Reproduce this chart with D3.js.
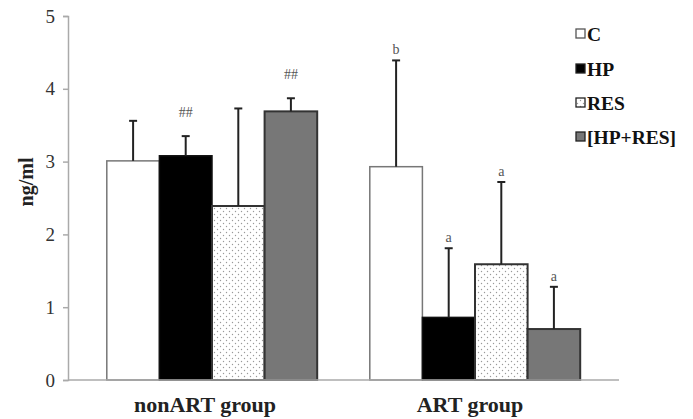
<!DOCTYPE html>
<html><head><meta charset="utf-8">
<script src="https://cdn.jsdelivr.net/npm/d3@7"></script>
<style>body{margin:0;background:#fff}svg{display:block}</style>
</head><body><svg id="c" width="693" height="419"></svg>
<script>
const groups = ["nonART group", "ART group"];
const series = ["C", "HP", "RES", "[HP+RES]"];
const means = {
  "nonART group": [3.01, 3.08, 2.39, 3.69],
  "ART group":    [2.93, 0.86, 1.59, 0.70]
};
const errTops = {
  "nonART group": [3.56, 3.35, 3.73, 3.87],
  "ART group":    [4.39, 1.81, 2.72, 1.28]
};
const marks = {
  "nonART group": ["", "##", "", "##"],
  "ART group":    ["b", "a", "a", "a"]
};
const yTicks = [0, 1, 2, 3, 4, 5];

const svg = d3.select("#c");
const defs = svg.append("defs");
const pat = defs.append("pattern").attr("id","dots").attr("patternUnits","userSpaceOnUse")
  .attr("width",6).attr("height",6);
pat.append("rect").attr("width",6).attr("height",6).attr("fill","#fff");
pat.append("circle").attr("cx",1.5).attr("cy",1.5).attr("r",0.7).attr("fill","#999");
pat.append("circle").attr("cx",4.5).attr("cy",4.5).attr("r",0.7).attr("fill","#999");

const fills = {"C":"#fff","HP":"#000","RES":"url(#dots)","[HP+RES]":"#777"};
const strokes = {"C":"#777","HP":"#111","RES":"#333","[HP+RES]":"#333"};
const sw = {"C":1.5,"HP":1.5,"RES":2,"[HP+RES]":2};

const y = d3.scaleLinear().domain([0,5]).range([380,16]);
const x0 = d3.scaleBand().domain(groups).range([80.5,606.5]).paddingInner(0.2).paddingOuter(0.1);
const x1 = d3.scaleBand().domain(series).range([0,x0.bandwidth()]);

// y axis
const yAxis = d3.axisLeft(y).tickValues(yTicks).tickSize(5).tickPadding(8).tickFormat(d3.format("d"));
const ya = svg.append("g").attr("transform","translate(68,0)").call(yAxis);
ya.select(".domain").attr("stroke","#aaa").attr("stroke-width",1.5);
ya.selectAll(".tick line").attr("stroke","#aaa").attr("stroke-width",1.5);
ya.selectAll(".tick text").attr("font-family","Liberation Serif").attr("font-size",19).attr("fill","#333");

// bars
const g = svg.append("g");
groups.forEach(grp => {
  series.forEach((s,i) => {
    const bx = x0(grp)+x1(s);
    const bw = x1.bandwidth();
    g.append("rect").attr("x",bx).attr("y",y(means[grp][i]))
      .attr("width",bw).attr("height",y(0)-y(means[grp][i]))
      .attr("fill",fills[s]).attr("stroke",strokes[s]).attr("stroke-width",sw[s]);
    const cx = bx + bw/2;
    g.append("line").attr("x1",cx).attr("x2",cx).attr("y1",y(means[grp][i])).attr("y2",y(errTops[grp][i]))
      .attr("stroke","#222").attr("stroke-width",2);
    g.append("line").attr("x1",cx-4).attr("x2",cx+4).attr("y1",y(errTops[grp][i])).attr("y2",y(errTops[grp][i]))
      .attr("stroke","#222").attr("stroke-width",2);
    const m = marks[grp][i];
    if (m) {
      g.append("text").attr("x",cx).attr("y",y(errTops[grp][i]) - (m==="##"?19:6)).attr("text-anchor","middle")
        .attr("font-family","Liberation Serif").attr("font-size",14).attr("fill","#555").text(m);
    }
  });
});

// x axis line
svg.append("line").attr("x1",68).attr("x2",619).attr("y1",380).attr("y2",380).attr("stroke","#aaa").attr("stroke-width",1.5);

// group labels
groups.forEach(grp => {
  svg.append("text").attr("x",x0(grp)+x0.bandwidth()/2 - (grp==="nonART group"?7:5)).attr("y",412)
    .attr("text-anchor","middle").attr("font-family","Liberation Serif").attr("font-weight","bold")
    .attr("font-size",22).attr("fill","#222").text(grp);
});

// y label
svg.append("text").attr("transform","translate(33,182) rotate(-90)").attr("text-anchor","middle")
  .attr("font-family","Liberation Serif").attr("font-weight","bold").attr("font-size",20).attr("fill","#222").text("ng/ml");

// legend
const leg = svg.append("g");
const legY = [34, 69, 103, 137];
series.forEach((s,i) => {
  leg.append("rect").attr("x",576).attr("y",legY[i]-5).attr("width",9).attr("height",9)
    .attr("fill",fills[s]).attr("stroke",s==="C"?"#555":"#222").attr("stroke-width",1.3);
  leg.append("text").attr("x",587).attr("y",legY[i]+6.5).attr("font-family","Liberation Serif")
    .attr("font-weight","bold").attr("font-size",19.5).attr("fill","#111").text(s);
});
</script></body></html>
